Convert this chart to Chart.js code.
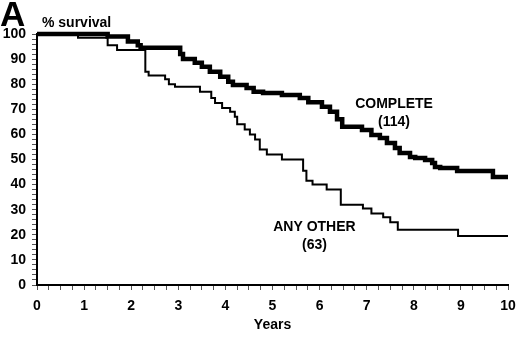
<!DOCTYPE html>
<html>
<head>
<meta charset="utf-8">
<script src="https://cdn.jsdelivr.net/npm/chart.js@4/dist/chart.umd.min.js"></script>
<style>
  html, body { margin: 0; padding: 0; background: #fff; }
  #wrap { width: 520px; height: 339px; position: relative; }
</style>
</head>
<body>
<div id="wrap"><canvas id="survivalChart"></canvas></div>
<script>
// step points: at year x the survival drops to value y
const completeYears = [0, 1.5, 1.93, 2.14, 2.2, 3.04, 3.1, 3.35, 3.5, 3.67, 3.89, 4.06, 4.16, 4.45, 4.6, 4.8, 5.2, 5.58, 5.76, 6.05, 6.22, 6.37, 6.48, 6.9, 7.1, 7.28, 7.43, 7.6, 7.7, 7.92, 8.03, 8.24, 8.39, 8.45, 8.56, 8.92, 9.68, 10];
const completeSurvival = [100, 99, 97, 95.5, 94.5, 92, 90, 88.5, 87, 85, 83, 81, 79.7, 78.5, 77, 76.5, 75.7, 74.5, 72.8, 71, 69, 66, 63, 61.8, 59.8, 58.6, 56.6, 54.6, 52.6, 51, 50.6, 49.8, 48.6, 47, 46.6, 45.4, 43, 43];

const otherYears = [0, 0.87, 1.5, 1.7, 2.3, 2.37, 2.72, 2.8, 2.93, 3.46, 3.7, 3.78, 3.93, 4.1, 4.2, 4.25, 4.41, 4.52, 4.63, 4.73, 4.88, 5.2, 5.65, 5.72, 5.85, 6.15, 6.45, 6.92, 7.1, 7.35, 7.5, 7.66, 8.94, 10];
const otherSurvival = [100, 98.5, 95.5, 93.6, 85, 83.5, 82, 80, 79, 77, 74.5, 72.5, 70.5, 69, 67, 64, 62, 60, 58, 54, 52, 50, 45.5, 41.5, 40, 38, 32, 30.5, 28.5, 27, 25, 22, 19.5, 19.5];

// group labels placed in data coordinates
const groupLabels = [
    { lines: ['COMPLETE', '(114)'], x: 7.58, y: 72 },
    { lines: ['ANY OTHER', '(63)'], x: 5.89, y: 23 }
];

const FONT = "'Liberation Sans', Arial, sans-serif";

const toPoints = (xs, ys) => xs.map((x, i) => ({ x: x, y: ys[i] }));

const textPlugin = {
    id: 'textPlugin',
    afterDraw(chart) {
        const ctx = chart.ctx;
        const xs = chart.scales.x;
        const ys = chart.scales.y;
        ctx.save();
        ctx.fillStyle = '#000';
        ctx.textBaseline = 'alphabetic';
        ctx.textAlign = 'left';
        ctx.font = 'bold 35px ' + FONT;
        ctx.fillText('A', 0, 26);
        ctx.font = 'bold 14px ' + FONT;
        ctx.fillText('% survival', 42, 27);

        ctx.textAlign = 'center';
        ctx.textBaseline = 'middle';
        groupLabels.forEach(g => {
            const px = xs.getPixelForValue(g.x);
            const py = ys.getPixelForValue(g.y);
            g.lines.forEach((t, i) => ctx.fillText(t, px, py + i * 18));
        });
        ctx.restore();
    }
};

const ctx = document.getElementById('survivalChart').getContext('2d');
new Chart(ctx, {
    type: 'line',
    data: {
        datasets: [{
            label: 'COMPLETE (114)',
            data: toPoints(completeYears, completeSurvival),
            borderColor: '#000',
            borderWidth: 4.5,
            stepped: true,
            pointRadius: 0,
            clip: false
        },
        {
            label: 'ANY OTHER (63)',
            data: toPoints(otherYears, otherSurvival),
            borderColor: '#000',
            borderWidth: 2,
            stepped: true,
            pointRadius: 0,
            clip: false
        }]
    },
    options: {
        responsive: true,
        maintainAspectRatio: false,
        animation: false,
        layout: { padding: { left: 0, right: 12, top: 34, bottom: 0 } },
        plugins: {
            legend: { display: false },
            tooltip: { enabled: false }
        },
        scales: {
            x: {
                type: 'linear',
                min: 0,
                max: 10,
                border: { display: true, color: '#000', width: 2 },
                grid: { drawOnChartArea: false, drawTicks: true, tickLength: 5, color: '#000', tickColor: '#555' },
                ticks: {
                    stepSize: 0.25,
                    autoSkip: false,
                    maxRotation: 0,
                    padding: 8,
                    color: '#000',
                    font: { family: FONT, size: 14, weight: 'bold' },
                    callback: v => (Number.isInteger(v) ? String(v) : '')
                },
                title: {
                    display: true,
                    text: 'Years',
                    color: '#000',
                    font: { family: FONT, size: 14, weight: 'bold' },
                    padding: { top: 0, bottom: 5 }
                },
                afterFit: scale => {
                    scale.height = 54;
                    scale.paddingLeft = 0;
                    scale.paddingRight = 0;
                }
            },
            y: {
                min: 0,
                max: 100,
                border: { display: true, color: '#000', width: 2 },
                grid: { drawOnChartArea: false, drawTicks: true, tickLength: 5, color: '#000', tickColor: '#555' },
                ticks: {
                    stepSize: 2,
                    autoSkip: false,
                    padding: 6,
                    color: '#000',
                    font: { family: FONT, size: 14, weight: 'bold' },
                    callback: v => (v % 10 === 0 ? String(v) : '')
                },
                afterFit: scale => { scale.width = 37; }
            }
        }
    },
    plugins: [textPlugin]
});
</script>
</body>
</html>
